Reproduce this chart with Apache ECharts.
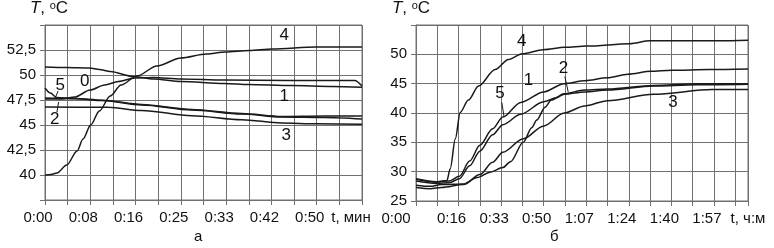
<!DOCTYPE html>
<html>
<head>
<meta charset="utf-8">
<script src="https://cdn.jsdelivr.net/npm/echarts@6/dist/echarts.min.js"></script>
<style>
  html, body { margin: 0; padding: 0; background: #fff; }
  #main { width: 774px; height: 248px; }
</style>
</head>
<body>
<div id="main"></div>
<script>
// ---- данные: панель а (t, мин; T, °C) ----
var curveA0 = [[0,47.6],[3,47.6],[5.5,47.8],[8.3,48.5],[11,49.0],[13.5,49.35],[16.5,49.7],[20,49.75],[25,49.6],[33,49.5],[45,49.45],[57,49.45],[58.33,48.9]];
var curveA1 = [[0,50.8],[4,50.75],[8.2,50.7],[10,50.55],[12,50.35],[16.2,49.85],[20,49.6],[25,49.36],[33,49.14],[37.5,49.04],[45.4,48.94],[52.8,48.85],[58.33,48.78]];
var curveA2 = [[0,47.7],[5.6,47.62],[10.5,47.45],[17.8,47.0],[27,46.5],[36.2,46.1],[43.5,45.8],[51.4,45.75],[58.33,45.6]];
var curveA3 = [[0,46.8],[11.7,46.77],[17.8,46.45],[27,45.93],[36.2,45.53],[43.5,45.2],[50,45.12],[58.33,45.08]];
var curveA4 = [[0,40.0],[1.1,40.05],[2.2,40.2],[4,41.0],[5.9,42.4],[7,43.6],[8.4,45.0],[10,46.4],[12,47.9],[14,49.0],[16.9,49.9],[20.6,50.9],[25,51.7],[29.7,52.1],[33.2,52.3],[37.6,52.45],[41.8,52.6],[49.9,52.8],[58.33,52.8]];
var curveA5 = [[0,48.7],[1,48.2],[2.1,47.75],[5.6,47.65],[10.5,47.48],[17.8,47.05],[27,46.55],[36.2,46.15],[43.5,45.85],[51.4,45.9],[58.33,45.9]];

// ---- данные: панель б ----
var curveB1 = [[0,28.8],[8,28.3],[13,28.4],[17,29.2],[21,31.8],[25,34.5],[30,37.3],[34,39.3],[41,41.8],[50,43.6],[58,45.0],[66,45.5],[75,46.0],[83,46.6],[92,47.1],[100,47.3],[115,47.4],[130,47.5]];
var curveB2 = [[0,27.7],[5.6,27.5],[10,27.8],[18.5,27.9],[24,29.0],[29,29.9],[34,30.7],[37,31.7],[42,35.0],[45.3,37.5],[47.3,38.8],[50.5,41.0],[53,42.2],[58,43.3],[66,43.9],[75,44.1],[93,44.7],[110,45.0],[130,45.0]];
var curveB3 = [[0,27.3],[5.6,27.1],[10,27.3],[18.6,27.8],[25,29.5],[30,31.6],[34,33.3],[42,35.6],[50,37.8],[58,40.0],[66,41.2],[75,42.1],[93,43.2],[116,44.0],[130,44.0]];
var curveB4 = [[0,28.7],[8.2,28.2],[12.1,28.5],[13.4,30.5],[15.4,35.6],[17.3,40.1],[20.5,42.2],[24.5,44.6],[31,47.4],[36.2,49.1],[41.6,50.1],[49.8,50.8],[58.3,51.2],[66.8,51.4],[83.7,51.8],[91.5,52.3],[108.3,52.3],[118.9,52.3],[130,52.4]];
var curveB5 = [[0,28.4],[8,28.0],[13,28.1],[17,28.8],[21,31.0],[25,33.5],[30,36.3],[34,38.0],[41,39.8],[50,41.9],[55,42.6],[58,43.2],[66,43.6],[75,43.9],[93,44.6],[110,44.8],[130,44.9]];

// подписи осей
var xLabelsA = ['0:00','0:08','0:16','0:25','0:33','0:42','0:50'];
var xLabelsB = ['0:00','0:16','0:33','0:50','1:07','1:24','1:40','1:57'];
var yLabelsA = ['40','42,5','45','47,5','50','52,5'];
var yLabelsB = ['25','30','35','40','45','50'];

// номера кривых: [номер, t, T]
var marksA = [['0',7.3,49.35],['1',44,47.9],['2',1.8,45.6],['3',44.4,43.95],['4',44,54.0],['5',2.8,48.95]];
var marksB = [['1',44,45.5],['2',57.7,47.6],['3',100.6,41.8],['4',41.4,52.3],['5',32.9,43.4]];
// выноски
var leadersA = [[[2.4,48.4],[1.8,47.6]],[[2.2,46.3],[2.5,47.3]]];
var leadersB = [[[33.6,41.8],[34.5,39.3]],[[58.3,46.2],[59.6,43.6]]];

var FONT = 'Liberation Sans, Arial, sans-serif';
var GRID_C = '#707070';
var LINE_C = '#1a1a1a';

function xFmt(labels, step) {
    return function (v) {
        var k = v / step, i = Math.round(k);
        if (Math.abs(k - i) > 1e-3 || i % 2) return '';
        var s = labels[i / 2];
        if (!s) return '';
        return i === 0 ? '{f|' + s + '}' : s;
    };
}
function yFmt(labels, min, step) {
    return function (v) {
        var i = Math.round((v - min) / step);
        return labels[i] || '';
    };
}

function xAxis(gi, max, step, labels, name, gap, firstPad) {
    return {
        type: 'value', gridIndex: gi, min: 0, max: max, interval: step,
        name: name, nameLocation: 'end', nameGap: gap,
        nameTextStyle: { color: '#111', fontSize: 15, fontFamily: FONT, align: 'center', verticalAlign: 'top', padding: [10, 0, 0, 0] },
        axisLine: { show: true, lineStyle: { color: GRID_C, width: 1 } },
        axisTick: { show: true, length: 5, lineStyle: { color: GRID_C } },
        axisLabel: {
            color: '#111', fontSize: 15, fontFamily: FONT, margin: 10, padding: [0, 14, 0, 0],
            formatter: xFmt(labels, step),
            rich: { f: { fontSize: 15, fontFamily: FONT, color: '#111', padding: [0, firstPad, 0, 0] } }
        },
        splitLine: { show: true, lineStyle: { color: GRID_C, width: 1 } }
    };
}
function yAxis(gi, min, max, step, labels, namePad) {
    return {
        type: 'value', gridIndex: gi, min: min, max: max, interval: step,
        name: '{i|T}{n|, }{s|o}{n|C}', nameLocation: 'end', nameGap: 8,
        nameTextStyle: {
            align: 'center', verticalAlign: 'bottom', padding: namePad,
            rich: {
                i: { fontStyle: 'italic', fontSize: 17, fontFamily: FONT, color: '#111' },
                n: { fontSize: 17, fontFamily: FONT, color: '#111' },
                s: { fontSize: 11, fontFamily: FONT, color: '#111', verticalAlign: 'top' }
            }
        },
        axisLine: { show: true, lineStyle: { color: GRID_C, width: 1 } },
        axisTick: { show: true, length: 5, lineStyle: { color: GRID_C } },
        axisLabel: { color: '#111', fontSize: 15, fontFamily: FONT, margin: 9, formatter: yFmt(labels, labels === yLabelsA ? 40 : 25, step) },
        splitLine: { show: true, lineStyle: { color: GRID_C, width: 1 } }
    };
}

function curve(data, gi, marks, num, leaders) {
    var s = {
        type: 'line', xAxisIndex: gi, yAxisIndex: gi, data: data,
        showSymbol: false, smooth: 0.3, smoothMonotone: 'x',
        lineStyle: { color: LINE_C, width: 1.5 }, silent: true, animation: false
    };
    var m = marks.filter(function (d) { return d[0] === num; })[0];
    if (m) {
        s.markPoint = {
            symbol: 'circle', symbolSize: 1, itemStyle: { color: 'rgba(0,0,0,0)' }, animation: false,
            label: { show: true, position: 'inside', formatter: m[0], color: '#111', fontSize: 17, fontFamily: FONT },
            data: [{ coord: [m[1], m[2]] }]
        };
    }
    if (leaders) {
        s.markLine = {
            symbol: ['none', 'none'], silent: true, animation: false,
            label: { show: false },
            lineStyle: { color: LINE_C, width: 1, type: 'solid' },
            data: [[{ coord: leaders[0] }, { coord: leaders[1] }]]
        };
    }
    return s;
}

var chart = echarts.init(document.getElementById('main'));
var option = {
    animation: false,
    grid: [
        { left: 45, top: 22, width: 317, height: 178, show: true, borderColor: GRID_C, borderWidth: 1 },
        { left: 416, top: 24, width: 332, height: 177, show: true, borderColor: GRID_C, borderWidth: 1 }
    ],
    xAxis: [
        xAxis(0, 350 / 6, 25 / 6, xLabelsA, 't, мин', -11, 0),
        xAxis(1, 130, 25 / 3, xLabelsB, 't, ч:м', 0, 26)
    ],
    yAxis: [
        yAxis(0, 37.5, 55, 2.5, yLabelsA, [0, 0, 0, 8]),
        yAxis(1, 25, 55, 5, yLabelsB, [0, 10, 0, 0])
    ],
    graphic: [
        { type: 'text', left: 194, top: 229, style: { text: 'а', fill: '#111', fontSize: 15, fontFamily: FONT } },
        { type: 'text', left: 550, top: 229, style: { text: 'б', fill: '#111', fontSize: 15, fontFamily: FONT } }
    ],
    series: [
        curve(curveA0, 0, marksA, '0'),
        curve(curveA1, 0, marksA, '1'),
        curve(curveA2, 0, marksA, '2', leadersA[1]),
        curve(curveA3, 0, marksA, '3'),
        curve(curveA4, 0, marksA, '4'),
        curve(curveA5, 0, marksA, '5', leadersA[0]),
        curve(curveB1, 1, marksB, '1'),
        curve(curveB2, 1, marksB, '2', leadersB[1]),
        curve(curveB3, 1, marksB, '3'),
        curve(curveB4, 1, marksB, '4'),
        curve(curveB5, 1, marksB, '5', leadersB[0])
    ]
};
chart.setOption(option);
</script>
</body>
</html>
